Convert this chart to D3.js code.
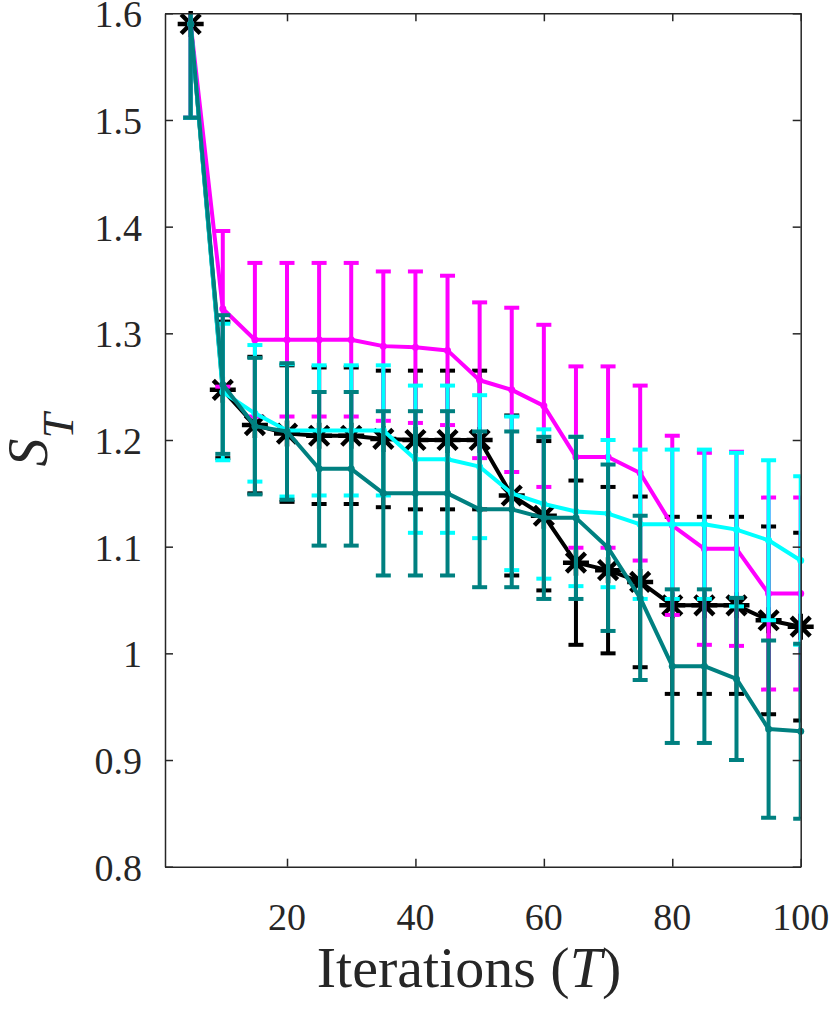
<!DOCTYPE html>
<html>
<head>
<meta charset="utf-8">
<script src="https://cdn.jsdelivr.net/npm/d3@7"></script>
<style>
  body { margin: 0; background: #fff; }
</style>
</head>
<body>
<svg id="chart" width="829" height="1014"></svg>
<script>
// iterations
var iterations = [5, 10, 15, 20, 25, 30, 35, 40, 45, 50, 55, 60, 65, 70, 75, 80, 85, 90, 95, 100];

// black (asterisks)
var blackMean = [1.59, 1.247, 1.214, 1.206, 1.204, 1.204, 1.201, 1.200, 1.200, 1.200, 1.148, 1.129, 1.085, 1.078, 1.067, 1.045, 1.045, 1.045, 1.031, 1.025];
var blackErr  = [0.088, 0.064, 0.064, 0.064, 0.064, 0.064, 0.064, 0.065, 0.065, 0.065, 0.075, 0.070, 0.077, 0.078, 0.080, 0.083, 0.083, 0.083, 0.088, 0.088];

// magenta
var magentaMean = [1.59, 1.323, 1.294, 1.294, 1.294, 1.294, 1.288, 1.287, 1.284, 1.256, 1.247, 1.232, 1.184, 1.184, 1.169, 1.120, 1.098, 1.098, 1.056, 1.056];
var magentaErr  = [0.088, 0.073, 0.072, 0.072, 0.072, 0.072, 0.070, 0.071, 0.070, 0.073, 0.077, 0.076, 0.085, 0.085, 0.082, 0.084, 0.090, 0.091, 0.090, 0.090];

// cyan
var cyanMean = [1.59, 1.245, 1.225, 1.209, 1.209, 1.209, 1.209, 1.182, 1.182, 1.175, 1.150, 1.140, 1.133, 1.131, 1.121, 1.121, 1.121, 1.116, 1.106, 1.087];
var cyanErr  = [0.088, 0.064, 0.064, 0.062, 0.061, 0.061, 0.061, 0.069, 0.069, 0.067, 0.072, 0.070, 0.070, 0.069, 0.070, 0.070, 0.070, 0.072, 0.075, 0.079];

// teal
var tealMean = [1.59, 1.252, 1.213, 1.208, 1.173, 1.173, 1.150, 1.150, 1.150, 1.135, 1.135, 1.127, 1.127, 1.099, 1.052, 0.988, 0.988, 0.976, 0.929, 0.927];
var tealErr  = [0.088, 0.065, 0.064, 0.064, 0.072, 0.072, 0.077, 0.077, 0.077, 0.073, 0.073, 0.076, 0.076, 0.078, 0.077, 0.072, 0.072, 0.076, 0.083, 0.082];

var xTicks = [20, 40, 60, 80, 100];
var yTicks = [0.8, 0.9, 1.0, 1.1, 1.2, 1.3, 1.4, 1.5, 1.6];
var yTickLabels = ["0.8", "0.9", "1", "1.1", "1.2", "1.3", "1.4", "1.5", "1.6"];

var serif = "'Liberation Serif', 'Times New Roman', serif";

var svg = d3.select("#chart");
var margin = {top: 13.3, right: 28.3, bottom: 147.3, left: 165};
var width = +svg.attr("width") - margin.left - margin.right;
var height = +svg.attr("height") - margin.top - margin.bottom;
var g = svg.append("g").attr("transform", "translate(" + margin.left + "," + margin.top + ")");

var x = d3.scaleLinear().domain([1, 100]).range([0, width]);
var y = d3.scaleLinear().domain([0.8, 1.6]).range([height, 0]);

g.append("clipPath").attr("id", "plotClip")
  .append("rect").attr("width", width).attr("height", height);

var axisColor = "#262626";
var tickLen = 8;

// draw order: black at bottom, teal on top
var series = [
  {mean: blackMean, err: blackErr, color: "#000000", marker: "star"},
  {mean: magentaMean, err: magentaErr, color: "#ff00ff", marker: "dot"},
  {mean: cyanMean, err: cyanErr, color: "#00ffff", marker: "dot"},
  {mean: tealMean, err: tealErr, color: "#008080", marker: "dot"}
];

var lineFunc = d3.line()
  .x(function(d) { return x(d.x); })
  .y(function(d) { return y(d.y); });

var capHalf = 7.5;

series.forEach(function(s) {
  var pts = [];
  for (let i = 0; i < iterations.length; i++) {
    pts.push({x: iterations[i], y: s.mean[i], e: s.err[i]});
  }
  var sg = g.append("g");
  var eb = sg.append("g").attr("clip-path", "url(#plotClip)")
    .attr("stroke", s.color).attr("stroke-width", 4).attr("fill", "none");
  pts.forEach(function(p) {
    var cx = x(p.x), y0 = y(p.y - p.e), y1 = y(p.y + p.e);
    eb.append("line").attr("x1", cx).attr("x2", cx).attr("y1", y0).attr("y2", y1);
    eb.append("line").attr("x1", cx - capHalf).attr("x2", cx + capHalf).attr("y1", y0).attr("y2", y0);
    eb.append("line").attr("x1", cx - capHalf).attr("x2", cx + capHalf).attr("y1", y1).attr("y2", y1);
  });
  sg.append("path")
    .attr("d", lineFunc(pts))
    .attr("stroke", s.color)
    .attr("stroke-width", 4)
    .attr("stroke-linejoin", "round")
    .attr("fill", "none");
  if (s.marker == "dot") {
    sg.selectAll("circle.m").data(pts).enter().append("circle")
      .attr("cx", function(d) { return x(d.x); })
      .attr("cy", function(d) { return y(d.y); })
      .attr("r", 3.5)
      .attr("fill", s.color);
  } else {
    var r = 13, rd = 9.5;
    var star = "M" + (-r) + ",0L" + r + ",0M0," + (-r) + "L0," + r +
      "M" + (-rd) + "," + (-rd) + "L" + rd + "," + rd +
      "M" + (-rd) + "," + rd + "L" + rd + "," + (-rd);
    sg.selectAll("path.m").data(pts).enter().append("path")
      .attr("d", star)
      .attr("transform", function(d) { return "translate(" + x(d.x) + "," + y(d.y) + ")"; })
      .attr("stroke", s.color)
      .attr("stroke-width", 4.5)
      .attr("fill", "none");
  }
});

// axes box with inward ticks on all sides
var xAxisB = d3.axisBottom(x).tickValues(xTicks).tickSizeInner(-tickLen).tickSizeOuter(0).tickFormat("");
var xAxisT = d3.axisTop(x).tickValues(xTicks).tickSizeInner(-tickLen).tickSizeOuter(0).tickFormat("");
var yAxisL = d3.axisLeft(y).tickValues(yTicks).tickSizeInner(-tickLen).tickSizeOuter(0).tickFormat("");
var yAxisR = d3.axisRight(y).tickValues(yTicks).tickSizeInner(-tickLen).tickSizeOuter(0).tickFormat("");

g.append("g").attr("transform", "translate(0," + height + ")").call(xAxisB);
g.append("g").call(xAxisT);
g.append("g").call(yAxisL);
g.append("g").attr("transform", "translate(" + width + ",0)").call(yAxisR);
g.selectAll(".domain").attr("stroke", axisColor).attr("stroke-width", 1.5);
g.selectAll(".tick line").attr("stroke", axisColor).attr("stroke-width", 1.5);

// tick labels
g.selectAll("text.xt").data(xTicks).enter().append("text")
  .attr("class", "xt")
  .attr("x", function(d) { return x(d); })
  .attr("y", height + 63)
  .attr("text-anchor", "middle")
  .attr("fill", axisColor)
  .style("font-family", serif)
  .style("font-size", "38px")
  .text(function(d) { return d; });

g.selectAll("text.yt").data(yTicks).enter().append("text")
  .attr("class", "yt")
  .attr("x", -23)
  .attr("y", function(d) { return y(d) + 14; })
  .attr("text-anchor", "end")
  .attr("fill", axisColor)
  .style("font-family", serif)
  .style("font-size", "38px")
  .text(function(d, i) { return yTickLabels[i]; });

// axis labels
var xl = svg.append("text")
  .attr("x", 469)
  .attr("y", 987)
  .attr("text-anchor", "middle")
  .attr("fill", axisColor)
  .style("font-family", serif)
  .style("font-size", "58px");
xl.append("tspan").text("Iterations (");
xl.append("tspan").style("font-style", "italic").text("T");
xl.append("tspan").text(")");

var yl = svg.append("text")
  .attr("transform", "translate(47," + (margin.top + height / 2) + ") rotate(-90)")
  .attr("text-anchor", "middle")
  .attr("fill", axisColor)
  .style("font-family", serif)
  .style("font-size", "56px");
yl.append("tspan").style("font-style", "italic").text("S");
yl.append("tspan").style("font-style", "italic").style("font-size", "45px").attr("dy", 26).text("T");
</script>
</body>
</html>
